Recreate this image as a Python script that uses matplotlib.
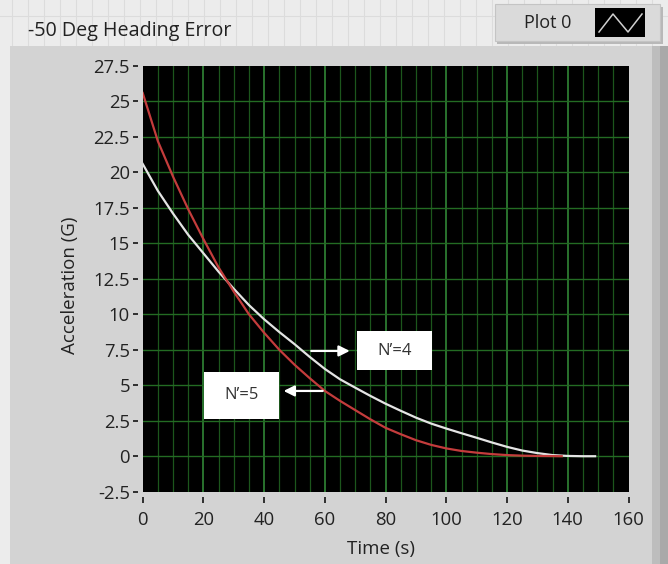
import matplotlib
matplotlib.use("Agg")
import matplotlib.pyplot as plt
from matplotlib.patches import Rectangle
from matplotlib.lines import Line2D
import numpy as np

plt.rcParams['font.family'] = ['Open Sans', 'DejaVu Sans']

# ---------------- data ----------------
title = "-50 Deg Heading Error"
xlabel = "Time (s)"
ylabel = "Acceleration (G)"
legend_label = "Plot 0"

t_n5 = [0, 5, 10, 15, 20, 25, 30, 35, 40, 45, 50, 55, 60, 65, 70, 75, 80, 85,
        90, 95, 100, 105, 110, 115, 120, 125, 130, 135, 138]
acc_n5 = [25.6, 22.2, 19.7, 17.4, 15.3, 13.3, 11.6, 10.0, 8.7, 7.5, 6.45, 5.5,
          4.6, 3.9, 3.25, 2.6, 2.0, 1.55, 1.13, 0.8, 0.55, 0.37, 0.25, 0.15,
          0.08, 0.04, 0.02, 0.01, 0.0]

t_n4 = [0, 5, 10, 15, 20, 25, 30, 35, 40, 45, 50, 55, 60, 65, 70, 75, 80, 85,
        90, 95, 100, 105, 110, 115, 120, 125, 130, 135, 140, 145, 149]
acc_n4 = [20.6, 18.7, 17.1, 15.6, 14.3, 13.0, 11.8, 10.65, 9.65, 8.75, 7.9, 7.0,
          6.15, 5.42, 4.83, 4.25, 3.7, 3.2, 2.72, 2.3, 1.95, 1.62, 1.3, 0.97,
          0.66, 0.4, 0.22, 0.08, 0.02, 0.0, 0.0]

label_n4 = "N\u2019=4"
label_n5 = "N\u2019=5"

x_ticks = [0, 20, 40, 60, 80, 100, 120, 140, 160]
y_ticks = [-2.5, 0, 2.5, 5, 7.5, 10, 12.5, 15, 17.5, 20, 22.5, 25, 27.5]
y_tick_labels = ["-2.5", "0", "2.5", "5", "7.5", "10", "12.5", "15", "17.5",
                 "20", "22.5", "25", "27.5"]

# ---------------- figure ----------------
W, H = 668, 564
fig = plt.figure(figsize=(W / 100, H / 100), dpi=100)
fig.patch.set_facecolor('#ececec')
TXT = '#222222'


def px_rect(x0, y0, x1, y1, **kw):
    r = Rectangle((x0 / W, 1 - y1 / H), (x1 - x0) / W, (y1 - y0) / H,
                  transform=fig.transFigure, **kw)
    fig.add_artist(r)
    return r


def px_line(xs, ys, **kw):
    l = Line2D([x / W for x in xs], [1 - y / H for y in ys],
               transform=fig.transFigure, **kw)
    fig.add_artist(l)
    return l


# faint front-panel grid in the top strip
for gx in range(12, W, 16):
    px_line([gx, gx], [0, 46], color='#dcdcdc', lw=0.8, zorder=-3)
px_line([0, W], [16, 16], color='#dcdcdc', lw=0.8, zorder=-3)

# main gray panel
px_rect(10, 46, 658, H, facecolor='#d3d3d3', edgecolor='none', zorder=-2)
# right shadow
px_rect(652, 46, 668, H, facecolor='#bdbdbd', edgecolor='none', zorder=-1.9)
px_rect(660, 46, 668, H, facecolor='#a9a9a9', edgecolor='none', zorder=-1.8)

# legend box
px_rect(497, 7, 663, 44, facecolor='#b8b8b8', edgecolor='none', zorder=-1.5)
px_rect(495, 4, 660, 41, facecolor='#dadada', edgecolor='#c4c4c4', lw=0.8, zorder=-1.4)
px_rect(595, 8, 645, 37, facecolor='black', edgecolor='none', zorder=-1.3)
px_line([599, 613, 628, 642], [32, 14, 32, 14], color='#d0d0d0', lw=1.1, zorder=-1.2)
fig.text(548 / W, 1 - 23 / H, legend_label, ha='center', va='center',
         fontsize=13, color=TXT)

# title
fig.text(28 / W, 1 - 31 / H, title, ha='left', va='center',
         fontsize=14.2, color=TXT)

# ---------------- axes ----------------
ax_l, ax_r, ax_t, ax_b = 142.7, 628.5, 66.0, 491.7
ax = fig.add_axes([ax_l / W, 1 - ax_b / H, (ax_r - ax_l) / W, (ax_b - ax_t) / H])
ax.set_zorder(2)
ax.set_facecolor('black')
ax.set_xlim(0, 160)
ax.set_ylim(-2.5, 27.5)

# grid
for gx in np.arange(5, 160, 5):
    major = (gx % 20 == 0)
    ax.axvline(gx, color='#35923a' if major else '#1c561c',
               lw=1.1 if major else 0.9, zorder=1)
for gy in y_ticks[1:-1]:
    ax.axhline(gy, color='#236b23', lw=1.0, zorder=1)

# curves
ax.plot(t_n4, acc_n4, color='#e4e4e4', lw=1.6, zorder=3)
ax.plot(t_n5, acc_n5, color='#c43c3c', lw=1.6, zorder=3.1)

# annotation boxes and arrows
ax.add_patch(Rectangle((70.6, 6.09), 24.8, 2.71, facecolor='white',
                       edgecolor='none', zorder=4))
ax.text(83.0, 7.45, label_n4, ha='center', va='center', fontsize=12,
        color='#333333', zorder=5)
ax.add_patch(Rectangle((20.2, 2.64), 24.8, 3.33, facecolor='white',
                       edgecolor='none', zorder=4))
ax.text(32.6, 4.3, label_n5, ha='center', va='center', fontsize=12,
        color='#333333', zorder=5)
ax.annotate('', xy=(68.2, 7.42), xytext=(55.5, 7.42),
            arrowprops=dict(arrowstyle='-|>', color='white', lw=1.6,
                            mutation_scale=16, shrinkA=0, shrinkB=0), zorder=5)
ax.annotate('', xy=(46.4, 4.6), xytext=(59.3, 4.6),
            arrowprops=dict(arrowstyle='-|>', color='white', lw=1.6,
                            mutation_scale=16, shrinkA=0, shrinkB=0), zorder=5)

# ticks and spines
for s in ax.spines.values():
    s.set_visible(False)
ax.spines['left'].set_position(('outward', 3.6))
ax.spines['bottom'].set_position(('outward', 3.6))
ax.set_xticks(x_ticks)
ax.set_yticks(y_ticks)
ax.set_yticklabels(y_tick_labels)
ax.tick_params(axis='both', direction='out', colors=TXT,
               labelsize=13.3, width=1.3)
ax.tick_params(axis='y', length=3.6, pad=2.0)
ax.tick_params(axis='x', length=4.6, pad=5.5)

fig.text(381 / W, 1 - 549 / H, xlabel, ha='center', va='center',
         fontsize=13.5, color=TXT)
fig.text(70 / W, 1 - 285 / H, ylabel, ha='center', va='center',
         rotation=90, fontsize=13.5, color=TXT)

fig.savefig('out.png', dpi=100, facecolor=fig.get_facecolor())
